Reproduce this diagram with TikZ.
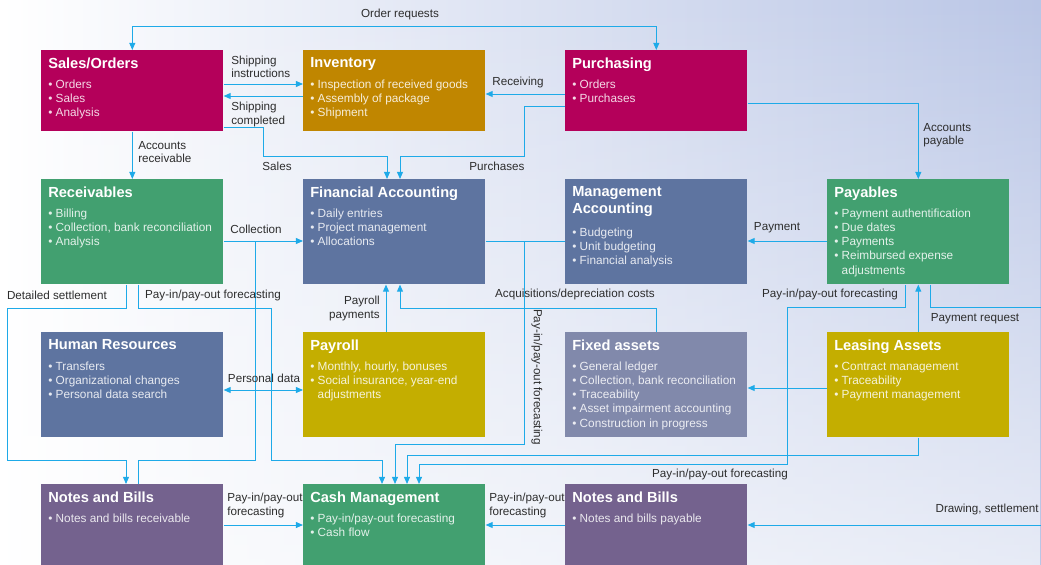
\documentclass[tikz,border=0pt]{standalone}
\usepackage{fontspec}
\setmainfont{Liberation Sans}
\usetikzlibrary{arrows.meta,fadings}

\definecolor{salesd}{RGB}{180,0,90}
\definecolor{invd}{RGB}{192,134,0}
\definecolor{greend}{RGB}{66,160,112}
\definecolor{blued}{RGB}{94,116,160}
\definecolor{fixd}{RGB}{129,137,171}
\definecolor{yellowd}{RGB}{196,174,0}
\definecolor{purpled}{RGB}{116,98,142}
\definecolor{flowd}{RGB}{30,170,232}
\definecolor{labeld}{RGB}{45,45,45}
\definecolor{skyd}{RGB}{186,198,230}
\definecolor{mistd}{RGB}{224,227,241}

\tikzfading[name=fadedown, top color=transparent!100, bottom color=transparent!35]

\tikzset{
  >={Triangle[length=5pt,width=4.2pt]},
  unit/.style={fill=#1, minimum width=4.55cm, minimum height=2.625cm, anchor=north west, inner sep=0pt},
  flat/.style={minimum height=2.025cm},
  unittext/.style={anchor=north west, inner sep=0pt, align=left, text=white!85!#1, font=\fontsize{8.4}{10}\selectfont},
  flow/.style={draw=flowd, line width=0.7pt, ->},
  tag/.style={text=labeld, inner sep=0pt, align=left, font=\fontsize{8.3}{9.3}\selectfont}
}
\newcommand\ttl[1]{{\color{white}\fontsize{10.4}{12}\selectfont\bfseries #1}}

\begin{document}
\begin{tikzpicture}[x=0.025cm, y=-0.025cm]
                    \useasboundingbox (0,0) rectangle (1041,565);
                    \clip (0,0) rectangle (1041,565);
                    \shade[left color=white, middle color=mistd, right color=skyd] (0,0) rectangle (1041,565);
                    \fill[white, path fading=fadedown] (0,0) rectangle (1041,565);
                    % boxes, row 1
                    \node[unit=salesd, flat] (sales) at (41,50) {};
                    \node[unit=invd, flat] (inv) at (303,50) {};
                    \node[unit=salesd, flat] (purch) at (565,50) {};
                    % row 2
                    \node[unit=greend] (recv) at (41,179) {};
                    \node[unit=blued] (fin) at (303,179) {};
                    \node[unit=blued] (mgmt) at (565,179) {};
                    \node[unit=greend] (pay) at (827,179) {};
                    % row 3
                    \node[unit=blued] (hr) at (41,332) {};
                    \node[unit=yellowd] (payroll) at (303,332) {};
                    \node[unit=fixd] (fixed) at (565,332) {};
                    \node[unit=yellowd] (lease) at (827,332) {};
                    % row 4
                    \node[unit=purpled, flat] (nbr) at (41,484) {};
                    \node[unit=greend, flat] (cash) at (303,484) {};
                    \node[unit=purpled, flat] (nbp) at (565,484) {};
                    % box texts
                    \node[unittext=salesd] (salest) at ([shift={(7,7.5)}]sales.north west) {\ttl{Sales/Orders}\\[4.5pt]• Orders\\• Sales\\• Analysis};
                    \node[unittext=invd] (invt) at ([shift={(7,7.5)}]inv.north west) {\ttl{Inventory}\\[4.5pt]• Inspection of received goods\\• Assembly of package\\• Shipment};
                    \node[unittext=salesd] (purcht) at ([shift={(7,7.5)}]purch.north west) {\ttl{Purchasing}\\[4.5pt]• Orders\\• Purchases};
                    \node[unittext=greend] (recvt) at ([shift={(7,7.5)}]recv.north west) {\ttl{Receivables}\\[4.5pt]• Billing\\• Collection, bank reconciliation\\• Analysis};
                    \node[unittext=blued] (fint) at ([shift={(7,7.5)}]fin.north west) {\ttl{Financial Accounting}\\[4.5pt]• Daily entries\\• Project management\\• Allocations};
                    \node[unittext=blued] (mgmtt) at ([shift={(7,7.5)}]mgmt.north west) {\ttl{Management}\\[2pt]\ttl{Accounting}\\[6pt]• Budgeting\\• Unit budgeting\\• Financial analysis};
                    \node[unittext=greend] (payt) at ([shift={(7,7.5)}]pay.north west) {\ttl{Payables}\\[4.5pt]• Payment authentification\\• Due dates\\• Payments\\• Reimbursed expense\\\phantom{• }adjustments};
                    \node[unittext=blued] (hrt) at ([shift={(7,7.5)}]hr.north west) {\ttl{Human Resources}\\[4.5pt]• Transfers\\• Organizational changes\\• Personal data search};
                    \node[unittext=yellowd] (payrollt) at ([shift={(7,7.5)}]payroll.north west) {\ttl{Payroll}\\[4.5pt]• Monthly, hourly, bonuses\\• Social insurance, year-end\\\phantom{• }adjustments};
                    \node[unittext=fixd] (fixedt) at ([shift={(7,7.5)}]fixed.north west) {\ttl{Fixed assets}\\[4.5pt]• General ledger\\• Collection, bank reconciliation\\• Traceability\\• Asset impairment accounting\\• Construction in progress};
                    \node[unittext=yellowd] (leaset) at ([shift={(7,7.5)}]lease.north west) {\ttl{Leasing Assets}\\[4.5pt]• Contract management\\• Traceability\\• Payment management};
                    \node[unittext=purpled] (nbrt) at ([shift={(7,7.5)}]nbr.north west) {\ttl{Notes and Bills}\\[4.5pt]• Notes and bills receivable};
                    \node[unittext=greend] (casht) at ([shift={(7,7.5)}]cash.north west) {\ttl{Cash Management}\\[4.5pt]• Pay-in/pay-out forecasting\\• Cash flow};
                    \node[unittext=purpled] (nbpt) at ([shift={(7,7.5)}]nbp.north west) {\ttl{Notes and Bills}\\[4.5pt]• Notes and bills payable};
                    % free ends
                    \coordinate (fmjoin) at (524,241);
                    \coordinate (edgepay) at (1041,307);
                    \coordinate (edgedraw) at (1041,525);
                    % connectors
                    \draw[flow, <->] (sales.north) -- ++(0,-24) -| (purch.north);
                    \draw[flow] (sales.east |- 0,84) -- (inv.west |- 0,84);
                    \draw[flow] (inv.west |- 0,96) -- (sales.east |- 0,96);
                    \draw[flow] (purch.west |- 0,94) -- (inv.east |- 0,94);
                    \draw[flow] (sales.east |- 0,127) -| (263,156) -| (fin.north -| 387,0);
                    \draw[flow] (purch.west |- 0,106) -| (524,156) -| (fin.north -| 400,0);
                    \draw[flow] (sales.south) -- (recv.north);
                    \draw[flow] (purch.east |- 0,103) -| (pay.north);
                    \draw[flow] (recv.east |- 0,241) -- (fin.west |- 0,241);
                    \draw[flow, -] (nbr.north -| 138,0) -- (138,460) -| (255,241);
                    \draw[flow] (pay.west |- 0,241) -- (mgmt.east |- 0,241);
                    \draw[flow, -] (fin.east |- 0,241) -- (mgmt.west |- 0,241);
                    \draw[flow] (fmjoin) |- (395,444) -- (cash.north -| 395,0);
                    \draw[flow] (recv.south -| 126,0) -- (126,308) -| (7,460) -| (nbr.north -| 126,0);
                    \draw[flow] (recv.south -| 138,0) -- (138,308) -| (271,460) -| (cash.north -| 382,0);
                    \draw[flow] (payroll.north -| 386,0) -- (fin.south -| 386,0);
                    \draw[flow] (fixed.north) |- (400,308) -- (fin.south -| 400,0);
                    \draw[flow] (pay.south -| 905,0) |- (787,307) |- (419,464) -- (cash.north -| 419,0);
                    \draw[flow] (lease.south) |- (407,455) -- (cash.north -| 407,0);
                    \draw[flow] (lease.north) -- (pay.south);
                    \draw[flow, -] (pay.south -| 930,0) |- (edgepay);
                    \draw[flow] (lease.west |- 0,388) -- (fixed.east |- 0,388);
                    \draw[flow, <->] (hr.east |- 0,390) -- (payroll.west |- 0,390);
                    \draw[flow] (nbr.east |- 0,525) -- (cash.west |- 0,525);
                    \draw[flow] (nbp.west |- 0,525) -- (cash.east |- 0,525);
                    \draw[flow] (edgedraw) -- (nbp.east |- 0,525);
                    % connector labels
                    \node[tag] (lorder) at (400,14) {Order requests};
                    \node[tag, anchor=west] (lshipi) at (231,66.5) {Shipping\\instructions};
                    \node[tag, anchor=west] (lshipc) at (231,114.5) {Shipping\\completed};
                    \node[tag] (lrecv) at (518,82) {Receiving};
                    \node[tag] (lsales) at (277,166) {Sales};
                    \node[tag] (lpurch) at (497,166) {Purchases};
                    \node[tag, anchor=west] (lacr) at (138,152.5) {Accounts\\receivable};
                    \node[tag, anchor=west] (lacp) at (923,135.5) {Accounts\\payable};
                    \node[tag] (lcoll) at (256,229) {Collection};
                    \node[tag] (lpaym) at (777,228) {Payment};
                    \node[tag] (ldet) at (57,295) {Detailed settlement};
                    \node[tag] (lfcr) at (213,295) {Pay-in/pay-out forecasting};
                    \node[tag, anchor=east, align=right] (lpayr) at (380,308.5) {Payroll\\payments};
                    \node[tag] (lacq) at (575,294) {Acquisitions/depreciation costs};
                    \node[tag, rotate=-90] (lfcf) at (537,377) {Pay-in/pay-out forecasting};
                    \node[tag] (lfcp) at (830,294) {Pay-in/pay-out forecasting};
                    \node[tag] (lpreq) at (975,319) {Payment request};
                    \node[tag] (lpers) at (264,378) {Personal data};
                    \node[tag, anchor=west] (lfcn) at (227,505.5) {Pay-in/pay-out\\forecasting};
                    \node[tag, anchor=west] (lfcb) at (489,505.5) {Pay-in/pay-out\\forecasting};
                    \node[tag] (lfcl) at (720,474) {Pay-in/pay-out forecasting};
                    \node[tag, anchor=east] (ldraw) at (1039,509) {Drawing, settlement};
                \end{tikzpicture}
\end{document}
